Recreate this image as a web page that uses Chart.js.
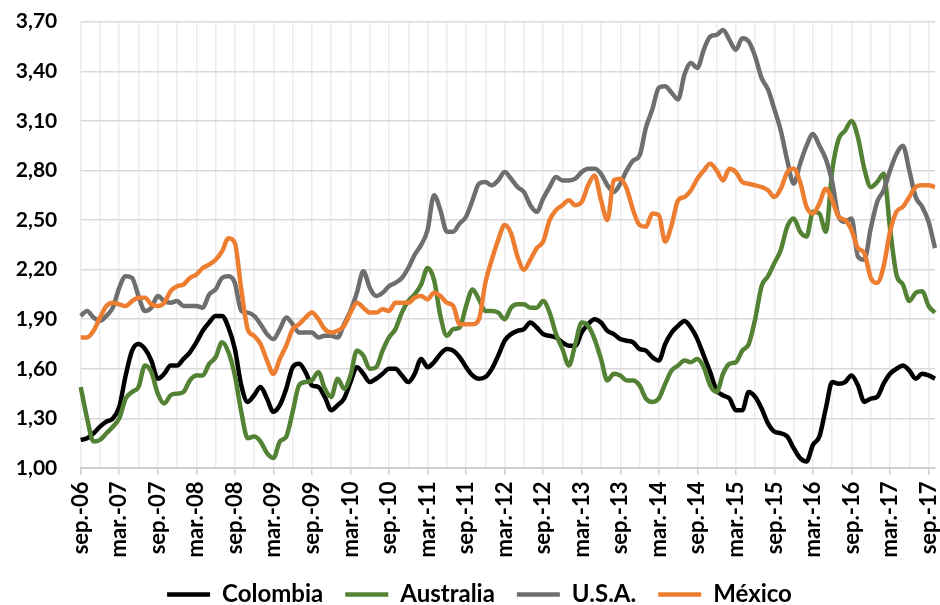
<!DOCTYPE html>
<html lang="es">
<head>
  <meta charset="UTF-8" />
  <title>Spread</title>
  <script src="https://cdn.jsdelivr.net/npm/chart.js"></script>
  <style>
    body { margin: 0; background: #fff; }
  </style>
</head>
<body>
  <canvas id="chart" width="940" height="605"></canvas>

  <script>
    // monthly, sep-06 .. oct-17
    const monthNames = ['ene.', 'feb.', 'mar.', 'abr.', 'may.', 'jun.', 'jul.', 'ago.', 'sep.', 'oct.', 'nov.', 'dic.'];
    const startYear = 2006, startMonth = 8, nMonths = 134;
    const categories = [];
    for (let i = 0; i < nMonths; i++) {
      const m = (startMonth + i) % 12;
      const y = startYear + Math.floor((startMonth + i) / 12);
      categories.push(monthNames[m] + '-' + String(y % 100).padStart(2, '0'));
    }

    const colombia = [
      1.17, 1.18, 1.21, 1.25, 1.28, 1.30, 1.37, 1.56, 1.71, 1.75, 1.72, 1.65, 1.54, 1.57, 1.62, 1.62, 1.66, 1.70, 1.76, 1.83, 1.88, 1.92, 1.92, 1.85, 1.72, 1.50, 1.40, 1.44, 1.49, 1.42, 1.34, 1.38, 1.48, 1.61,
      1.63, 1.58, 1.50, 1.49, 1.43, 1.35, 1.38, 1.42, 1.52, 1.61, 1.57, 1.52, 1.54, 1.57, 1.60, 1.60, 1.56, 1.52, 1.57, 1.66, 1.61, 1.64, 1.69, 1.72, 1.71, 1.67, 1.61, 1.56, 1.54, 1.55, 1.60, 1.68, 1.77,
      1.81, 1.83, 1.84, 1.88, 1.85, 1.81, 1.80, 1.79, 1.76, 1.74, 1.74, 1.82, 1.87, 1.90, 1.88, 1.83, 1.81, 1.78, 1.77, 1.76, 1.72, 1.71, 1.67, 1.65, 1.75, 1.82, 1.86, 1.89, 1.85, 1.78, 1.68, 1.58, 1.47, 1.44,
      1.42, 1.35, 1.35, 1.46, 1.43, 1.36, 1.27, 1.22, 1.21, 1.19, 1.12, 1.06, 1.04, 1.14, 1.19, 1.36, 1.52, 1.51, 1.52, 1.56, 1.50, 1.40, 1.42, 1.43, 1.51, 1.57, 1.60, 1.62, 1.59, 1.54, 1.57, 1.56, 1.54
    ];
    const australia = [
      1.49, 1.30, 1.16, 1.17, 1.21, 1.25, 1.30, 1.42, 1.46, 1.49, 1.62, 1.58, 1.45, 1.39, 1.44, 1.45, 1.46, 1.53, 1.56, 1.56, 1.63, 1.67, 1.76, 1.70, 1.56, 1.34, 1.18, 1.19, 1.16, 1.09, 1.06, 1.16, 1.19, 1.34,
      1.50, 1.52, 1.53, 1.58, 1.48, 1.43, 1.54, 1.48, 1.56, 1.71, 1.68, 1.60, 1.61, 1.71, 1.79, 1.84, 1.94, 2.01, 2.05, 2.11, 2.21, 2.14, 1.92, 1.80, 1.84, 1.85, 1.98, 2.08, 2.02, 1.95, 1.95, 1.94, 1.90,
      1.97, 1.99, 1.99, 1.97, 1.97, 2.01, 1.94, 1.81, 1.72, 1.62, 1.75, 1.88, 1.86, 1.78, 1.66, 1.53, 1.57, 1.56, 1.53, 1.53, 1.50, 1.42, 1.40, 1.42, 1.51, 1.59, 1.62, 1.65, 1.64, 1.66, 1.61, 1.50, 1.46, 1.57,
      1.63, 1.64, 1.71, 1.75, 1.90, 2.10, 2.16, 2.24, 2.32, 2.46, 2.51, 2.43, 2.40, 2.55, 2.54, 2.43, 2.80, 2.99, 3.04, 3.10, 3.00, 2.81, 2.70, 2.73, 2.78, 2.45, 2.17, 2.11, 2.01, 2.06, 2.07, 1.98, 1.94
    ];
    const usa = [
      1.92, 1.95, 1.91, 1.89, 1.92, 1.97, 2.09, 2.16, 2.15, 2.04, 1.95, 1.97, 2.04, 2.01, 2.00, 2.01, 1.98, 1.98, 1.98, 1.97, 2.05, 2.08, 2.15, 2.16, 2.12, 1.95, 1.94, 1.92, 1.87, 1.81, 1.78, 1.84, 1.91, 1.87,
      1.82, 1.82, 1.82, 1.79, 1.80, 1.80, 1.79, 1.87, 1.95, 2.06, 2.19, 2.09, 2.04, 2.06, 2.10, 2.12, 2.15, 2.21, 2.29, 2.35, 2.44, 2.65, 2.56, 2.43, 2.43, 2.48, 2.52, 2.62, 2.72, 2.73, 2.71, 2.74, 2.79,
      2.75, 2.70, 2.67, 2.59, 2.55, 2.63, 2.70, 2.76, 2.74, 2.74, 2.75, 2.79, 2.81, 2.81, 2.78, 2.71, 2.67, 2.72, 2.80, 2.86, 2.89, 3.06, 3.17, 3.30, 3.31, 3.27, 3.23, 3.38, 3.45, 3.42, 3.53, 3.61, 3.62, 3.65,
      3.59, 3.53, 3.60, 3.58, 3.49, 3.36, 3.29, 3.17, 3.04, 2.86, 2.72, 2.84, 2.95, 3.02, 2.95, 2.87, 2.73, 2.52, 2.49, 2.51, 2.28, 2.26, 2.45, 2.61, 2.68, 2.80, 2.90, 2.95, 2.80, 2.64, 2.58, 2.49, 2.33
    ];
    const mexico = [
      1.79, 1.79, 1.83, 1.91, 1.98, 2.00, 1.99, 1.98, 2.01, 2.03, 2.03, 1.99, 1.98, 2.00, 2.07, 2.10, 2.11, 2.15, 2.17, 2.21, 2.23, 2.26, 2.31, 2.39, 2.36, 2.08, 1.84, 1.80, 1.75, 1.65, 1.57, 1.66, 1.74, 1.84,
      1.87, 1.91, 1.94, 1.90, 1.84, 1.82, 1.83, 1.86, 1.94, 2.00, 1.97, 1.94, 1.94, 1.96, 1.95, 2.00, 2.00, 2.00, 2.03, 2.04, 2.02, 2.06, 2.04, 2.00, 1.98, 1.87, 1.87, 1.87, 1.90, 2.12, 2.26, 2.38, 2.47,
      2.42, 2.28, 2.20, 2.26, 2.33, 2.37, 2.50, 2.56, 2.59, 2.62, 2.59, 2.61, 2.71, 2.77, 2.62, 2.50, 2.74, 2.75, 2.69, 2.56, 2.47, 2.46, 2.54, 2.53, 2.37, 2.47, 2.62, 2.64, 2.68, 2.75, 2.80, 2.84, 2.80, 2.74,
      2.81, 2.79, 2.73, 2.72, 2.71, 2.70, 2.68, 2.64, 2.69, 2.79, 2.81, 2.73, 2.58, 2.54, 2.60, 2.69, 2.62, 2.52, 2.50, 2.44, 2.33, 2.30, 2.15, 2.12, 2.22, 2.43, 2.55, 2.58, 2.64, 2.70, 2.71, 2.71, 2.70
    ];

    const seriesNames = ['Colombia', 'Australia', 'U.S.A.', 'México'];
    const seriesColors = ['#000000', '#548235', '#6e6e6e', '#ed7d31'];
    const seriesData = [colombia, australia, usa, mexico];
    const yTicks = { min: 1.0, max: 3.7, step: 0.3 };

    const FONT = 'Lato';

    const datasets = seriesData.map((d, i) => ({
      label: seriesNames[i],
      data: d,
      borderColor: seriesColors[i],
      backgroundColor: seriesColors[i],
      borderWidth: 4.5,
      pointRadius: 0,
      cubicInterpolationMode: 'monotone',
      order: seriesData.length - 1 - i   // later series on top, like Excel
    }));

    // legend in the original sits a bit right of the canvas centre
    const legendShift = {
      id: 'legendShift',
      afterLayout(chart) {
        chart.legend.left += 12;
        chart.legend.right += 12;
      }
    };

    const ctx = document.getElementById('chart').getContext('2d');
    new Chart(ctx, {
      type: 'line',
      data: { labels: categories, datasets },
      plugins: [legendShift],
      options: {
        responsive: false,
        animation: false,
        devicePixelRatio: 1,
        layout: { padding: { top: 21.7, right: 5, left: 0, bottom: -11.5 } },
        plugins: {
          tooltip: { enabled: false },
          legend: {
            position: 'bottom',
            labels: {
              usePointStyle: true,
              pointStyle: 'line',
              pointStyleWidth: 43,
              padding: 22,
              color: '#000',
              font: { family: FONT, size: 24, weight: 'bold' },
              sort: (a, b) => a.datasetIndex - b.datasetIndex
            }
          }
        },
        scales: {
          x: {
            afterFit: s => {
              s.height = 92.5;
              s.paddingLeft = 0;
              s.paddingRight = 0;
            },
            border: { display: true, color: '#d0d0d0', width: 2 },
            grid: {
              color: c => c.index % 3 === 0 ? '#ececec' : 'rgba(0,0,0,0)',
              lineWidth: 1.5,
              drawTicks: true,
              tickLength: 7,
              tickColor: c => c.index % 6 === 0 ? '#d0d0d0' : 'rgba(0,0,0,0)',
              tickWidth: 1.5
            },
            ticks: {
              autoSkip: false,
              minRotation: 90,
              maxRotation: 90,
              padding: 6.5,
              color: '#000',
              font: { family: FONT, size: 22, weight: 'bold' },
              callback: (v, i) => i % 6 === 0 ? categories[i] : ''
            }
          },
          y: {
            min: yTicks.min,
            max: yTicks.max,
            afterFit: s => { s.width = 80.7; },
            border: { display: false },
            grid: {
              color: '#d9d9d9',
              lineWidth: 1.5,
              drawTicks: true,
              tickLength: 23.4,
              tickColor: 'rgba(0,0,0,0)'
            },
            ticks: {
              stepSize: yTicks.step,
              padding: 0,
              color: '#000',
              font: { family: FONT, size: 21, weight: 'bold' },
              callback: v => v.toFixed(2).replace('.', ',')
            }
          }
        }
      }
    });
  </script>
</body>
</html>
